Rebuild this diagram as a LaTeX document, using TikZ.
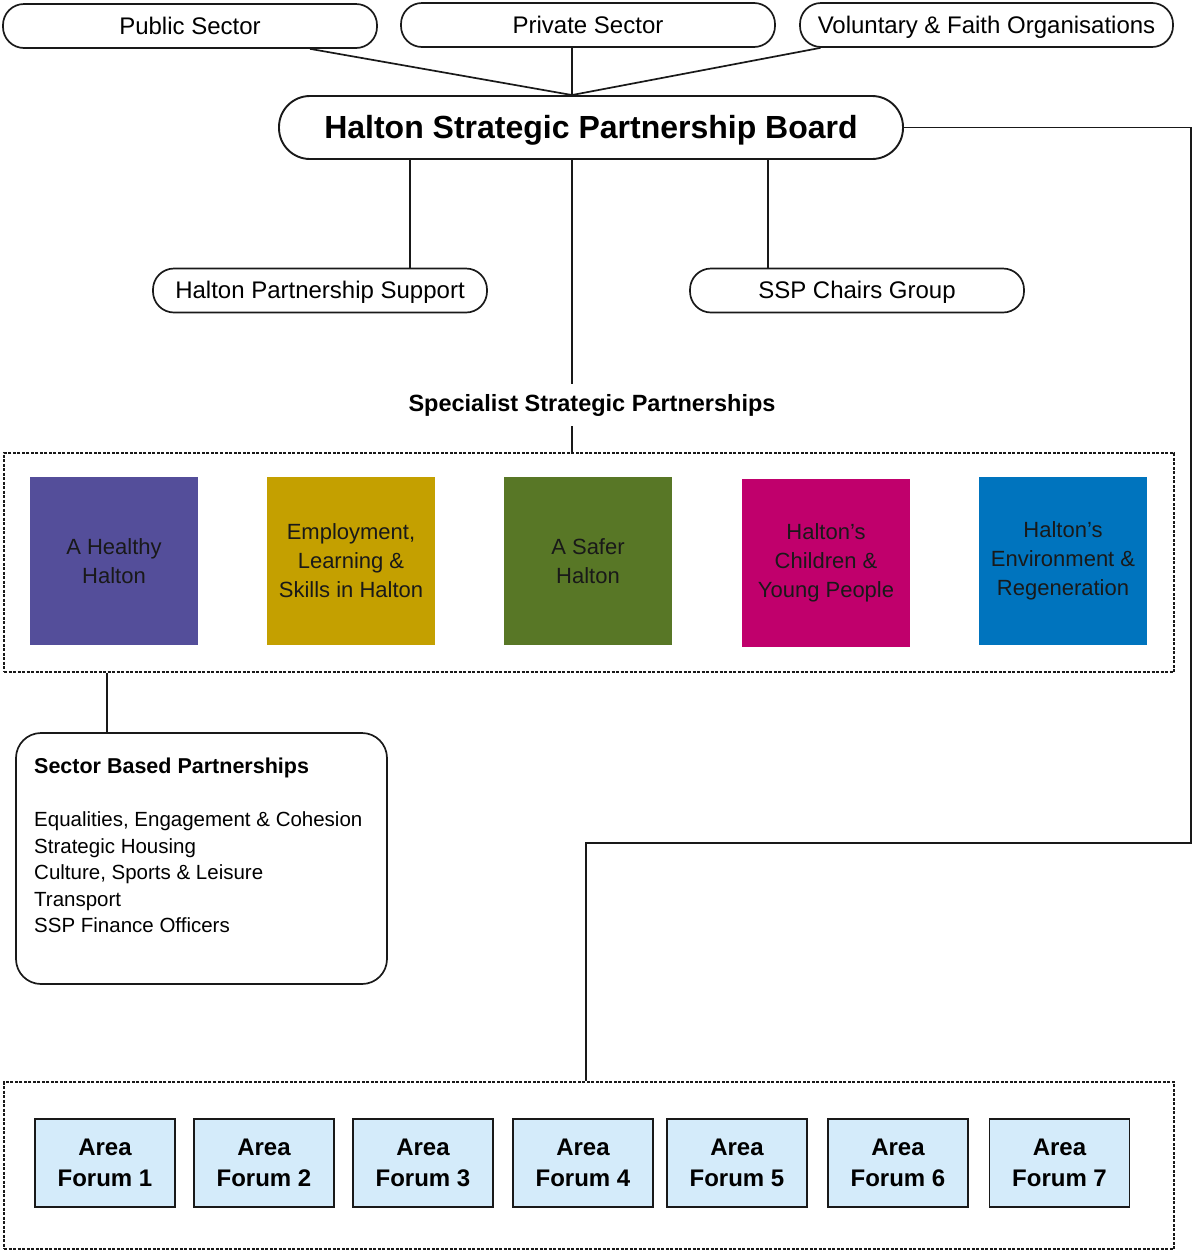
\documentclass[tikz,border=0pt]{standalone}
\usepackage{fontspec}
\setmainfont{Liberation Sans}
\usetikzlibrary{calc}
\definecolor{healthy}{RGB}{84,78,154}
\definecolor{employ}{RGB}{196,160,0}
\definecolor{safer}{RGB}{88,119,38}
\definecolor{children}{RGB}{192,0,108}
\definecolor{environ}{RGB}{0,116,190}
\definecolor{forumblue}{RGB}{212,235,250}
\definecolor{ink}{RGB}{25,25,25}
\begin{document}
\begin{tikzpicture}[x=1pt,y=-1pt,
  pill/.style={draw=ink, line width=1.7pt, rounded corners=21pt, minimum height=44pt,
    inner sep=0pt, text height=19pt, text depth=3pt, font=\fontsize{24}{28}\selectfont},
  boardbox/.style={draw=ink, line width=1.9pt, rounded corners=31pt, minimum width=624pt,
    minimum height=63pt, inner sep=0pt, text height=26pt, text depth=4pt,
    font=\bfseries\fontsize{32}{36}\selectfont},
  link/.style={draw=ink, line width=1.7pt},
  dashbox/.style={draw=ink, dash pattern=on 3pt off 1.5pt, line width=1.6pt, inner sep=0pt},
  sq/.style={minimum width=168pt, minimum height=168pt, inner sep=0pt, align=center,
    text=ink, font=\fontsize{22}{29}\selectfont},
  forum/.style={draw=ink, line width=1.8pt, fill=forumblue, minimum width=140pt,
    minimum height=88pt, inner sep=0pt, align=center, font=\bfseries\fontsize{24}{31}\selectfont},
  listbox/.style={draw=ink, line width=1.7pt, rounded corners=25pt, minimum width=371pt,
    minimum height=251pt, inner sep=0pt}
]
\useasboundingbox (0,0) rectangle (1192,1251);

% sector pills
\node[pill, minimum width=374pt] (pub)  at (190,26) {Public Sector};
\node[pill, minimum width=374pt] (priv) at (588,25) {Private Sector};
\node[pill, minimum width=373pt] (vol)  at (986.5,25) {Voluntary \& Faith Organisations};

% board
\node[boardbox] (board) at (591,127.5) {Halton Strategic Partnership Board};

% support groups
\node[pill, minimum width=334pt] (hps) at (320,290.5) {Halton Partnership Support};
\node[pill, minimum width=334pt] (ssp) at (857,290.5) {SSP Chairs Group};

% specialist partnerships
\node[inner sep=0pt, minimum height=42pt, font=\bfseries\fontsize{23.5}{28}\selectfont]
  (ssplabel) at (592,405) {Specialist Strategic Partnerships};
\node[dashbox, minimum width=1170pt, minimum height=219pt] (sspbox) at (589,562.5) {};

\node[sq, fill=healthy]  (hh)  at (114,561) {A Healthy\\Halton};
\node[sq, fill=employ]   (els) at (351,561) {Employment,\\Learning \&\\Skills in Halton};
\node[sq, fill=safer]    (sh)  at (588,561) {A Safer\\Halton};
\node[sq, fill=children] (cyp) at (826,563) {Halton’s\\Children \&\\Young People};
\node[sq, fill=environ]  (er)  at (1063,561) {Halton’s\\Environment \&\\Regeneration};

% sector based partnerships
\node[listbox] (sbp) at (201.5,858.5) {};
\node[anchor=north west, inner sep=0pt, align=left, font=\fontsize{20.5}{26.5}\selectfont]
  (sbptext) at (34,758) {{\bfseries\fontsize{21.5}{26.5}\selectfont Sector Based Partnerships}\\[26.5pt]
  Equalities, Engagement \& Cohesion\\
  Strategic Housing\\
  Culture, Sports \& Leisure\\
  Transport\\
  SSP Finance Officers};

% area forums
\node[dashbox, minimum width=1170pt, minimum height=167pt] (forumbox) at (589,1165.5) {};
\node[forum] (af1) at (105,1163) {Area\\Forum 1};
\node[forum] (af2) at (264,1163) {Area\\Forum 2};
\node[forum] (af3) at (423,1163) {Area\\Forum 3};
\node[forum] (af4) at (583,1163) {Area\\Forum 4};
\node[forum] (af5) at (737,1163) {Area\\Forum 5};
\node[forum] (af6) at (898,1163) {Area\\Forum 6};
\node[forum] (af7) at (1059.5,1163) {Area\\Forum 7};

% connector columns
\coordinate (trunk) at (572,0);
\coordinate (colhps) at (410,0);
\coordinate (colssp) at (768,0);
\coordinate (colsbp) at (107,0);
\coordinate (turn) at (586,843);

\draw[link] ($(pub.south)+(120,0)$) -- (board.north -| trunk);
\draw[link] (priv.south -| trunk) -- (board.north -| trunk);
\draw[link] ($(vol.south)+(-166,0)$) -- (board.north -| trunk);

\draw[link] (board.south -| colhps) -- (hps.north -| colhps);
\draw[link] (board.south -| colssp) -- (ssp.north -| colssp);
\draw[link] (board.south -| trunk) -- (ssplabel.north -| trunk);
\draw[link] (ssplabel.south -| trunk) -- (sspbox.north -| trunk);

\draw[link] (sspbox.south -| colsbp) -- (sbp.north -| colsbp);

\draw[link] (board.east) -- ++(287,0) |- (turn) -- (forumbox.north -| turn);
\end{tikzpicture}
\end{document}
